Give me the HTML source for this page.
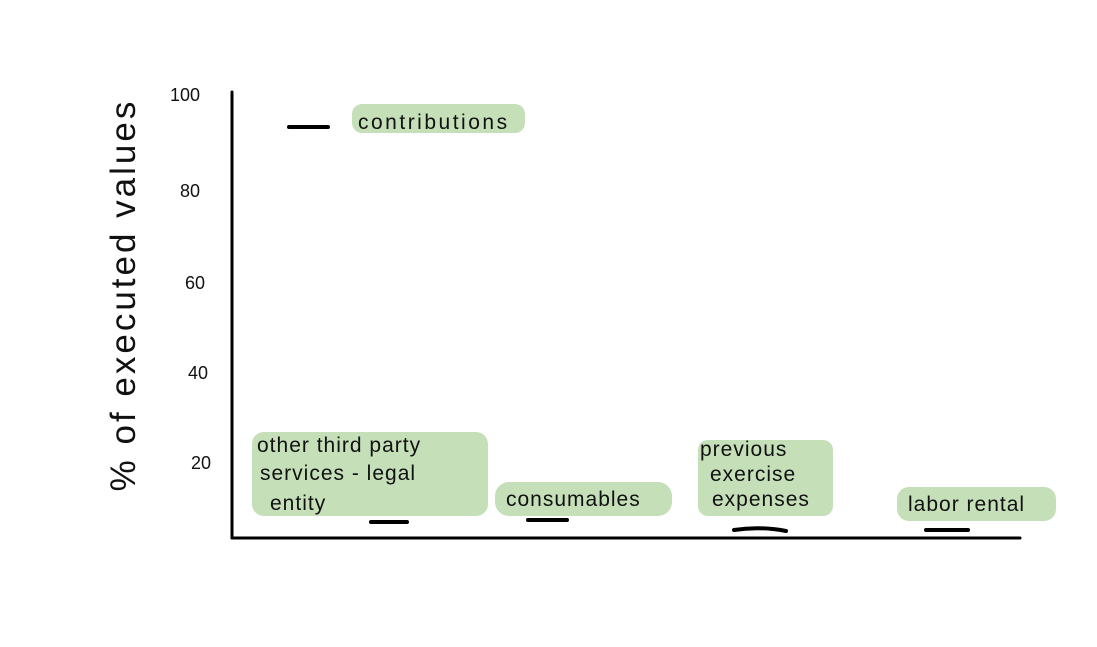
<!DOCTYPE html>
<html><head><meta charset="utf-8"><style>
html,body{margin:0;padding:0;background:#fff;}
svg{display:block;}
text{font-family:"Liberation Sans",sans-serif;fill:#111;}
</style></head><body>
<svg width="1097" height="647" viewBox="0 0 1097 647" xmlns="http://www.w3.org/2000/svg">
<rect width="1097" height="647" fill="#fff"/>
<g fill="#c5dfb8">
<rect x="352" y="104" width="173" height="29" rx="10"/>
<rect x="252" y="432" width="236" height="84" rx="12"/>
<rect x="495" y="482" width="177" height="34" rx="14"/>
<rect x="698" y="440" width="135" height="76" rx="10"/>
<rect x="897" y="487" width="159" height="34" rx="12"/>
</g>
<g stroke="#000" stroke-width="3" stroke-linecap="round" fill="none">
<line x1="232" y1="92" x2="232" y2="538"/>
<line x1="232" y1="538" x2="1020" y2="538"/>
</g>
<g stroke="#000" stroke-width="4" stroke-linecap="round">
<line x1="289" y1="127" x2="328" y2="127"/>
<line x1="371" y1="522" x2="407" y2="522"/>
<line x1="528" y1="520" x2="567" y2="520"/>
<path d="M734 530 Q760 526 786 531" fill="none"/>
<line x1="926" y1="530" x2="968" y2="530"/>
</g>
<g font-size="18">
<text x="170" y="101">100</text>
<text x="180" y="197">80</text>
<text x="185" y="289">60</text>
<text x="188" y="379">40</text>
<text x="191" y="469">20</text>
</g>
<text transform="translate(135,295) rotate(-90)" text-anchor="middle" font-size="35" letter-spacing="3">% of executed values</text>
<g font-size="21" letter-spacing="1">
<text x="358" y="129" letter-spacing="2.5">contributions</text>
<text x="257" y="452">other third party</text>
<text x="260" y="480">services - legal</text>
<text x="270" y="510">entity</text>
<text x="506" y="506">consumables</text>
<text x="700" y="456">previous</text>
<text x="710" y="481">exercise</text>
<text x="712" y="506">expenses</text>
<text x="908" y="511">labor rental</text>
</g>
</svg>
</body></html>
